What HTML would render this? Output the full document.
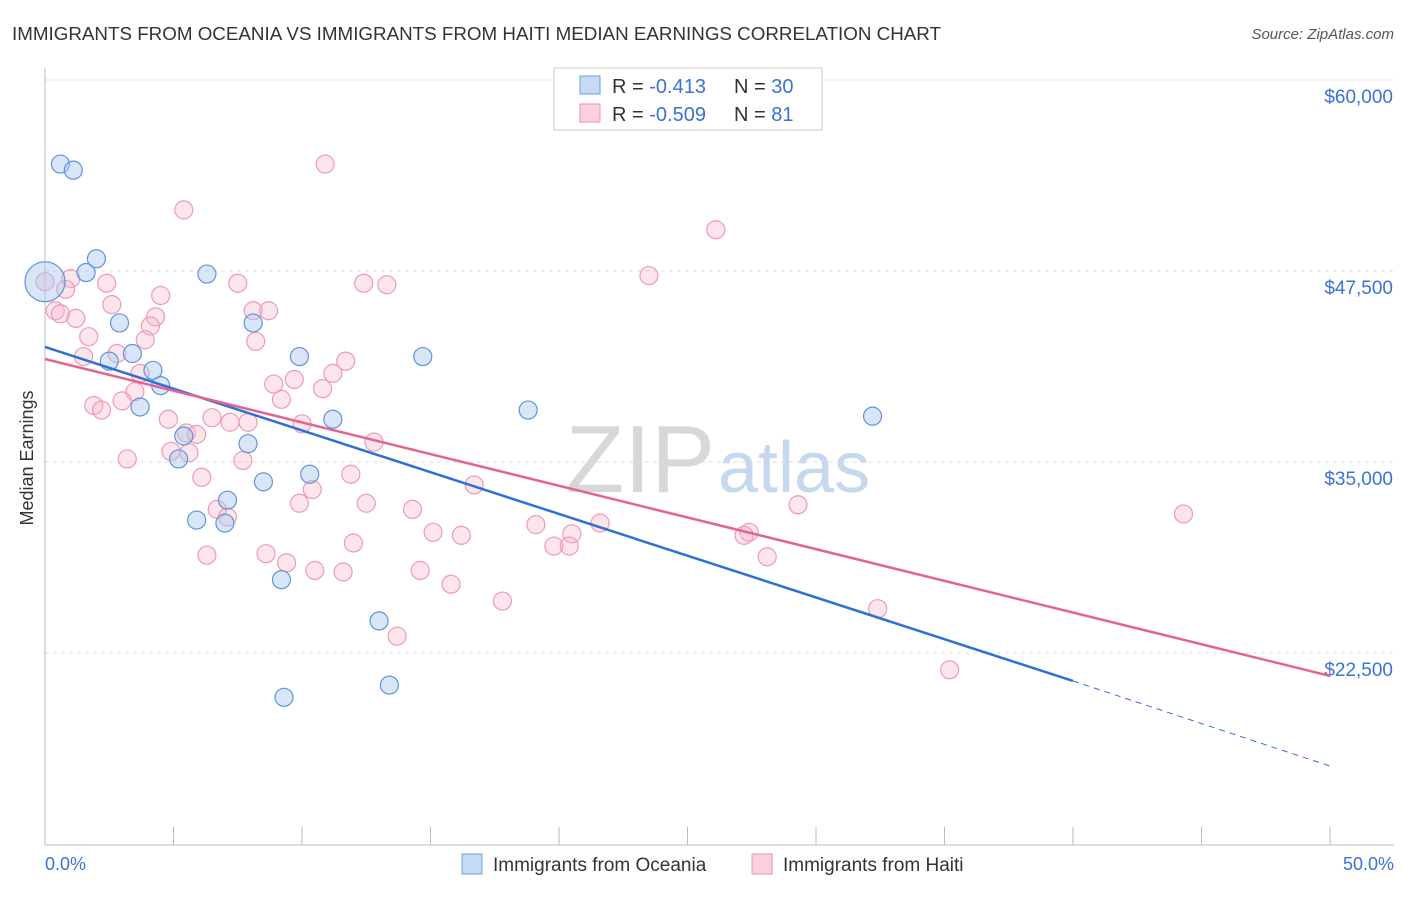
<!DOCTYPE html>
<html><head><meta charset="utf-8"><style>
body{margin:0;background:#fff;font-family:"Liberation Sans",sans-serif;}
svg text{font-family:"Liberation Sans",sans-serif;}
</style></head><body>
<svg id="chart" width="1406" height="892">
<text x="12" y="40" font-size="18" fill="#333" textLength="929" lengthAdjust="spacingAndGlyphs">IMMIGRANTS FROM OCEANIA VS IMMIGRANTS FROM HAITI MEDIAN EARNINGS CORRELATION CHART</text>
<text x="1394" y="39" font-size="15" fill="#555" font-style="italic" text-anchor="end">Source: ZipAtlas.com</text>
<text x="33" y="458" font-size="18" fill="#333" text-anchor="middle" transform="rotate(-90 33 458)">Median Earnings</text>
<text x="715" y="492" font-size="96" fill="#d8d8d8" text-anchor="end" font-family="Liberation Serif">ZIP</text>
<text x="718" y="492" font-size="72" fill="#c6d8ee">atlas</text>
<g id="grid"></g><g id="pts"></g><g id="lines"></g>
<g>
<rect x="554" y="68" width="268" height="62" fill="#fff" stroke="#ccc"/>
<rect x="580" y="76" width="20" height="18" fill="#c5dbf5" stroke="#6a9de0"/>
<rect x="580" y="104" width="20" height="18" fill="#fcd0dc" stroke="#ee90ad"/>
<text x="612" y="93" font-size="20" fill="#333">R = <tspan fill="#3a72d8">-0.413</tspan><tspan x="734">N = </tspan><tspan fill="#3a72d8">30</tspan></text>
<text x="612" y="121" font-size="20" fill="#333">R = <tspan fill="#3a72d8">-0.509</tspan><tspan x="734">N = </tspan><tspan fill="#3a72d8"> 81</tspan></text>
</g>
<g>
<rect x="462" y="854" width="20" height="20" fill="#c5dbf5" stroke="#6a9de0"/>
<text x="493" y="871" font-size="19" fill="#333">Immigrants from Oceania</text>
<rect x="752" y="854" width="20" height="20" fill="#fcd0dc" stroke="#ee90ad"/>
<text x="783" y="871" font-size="19" fill="#333">Immigrants from Haiti</text>
</g>
<text x="45" y="870" font-size="18" fill="#3a72d8">0.0%</text>
<text x="1394" y="870" font-size="18" fill="#3a72d8" text-anchor="end">50.0%</text>
</svg>
<script>
const yTicks=[60000,47500,35000,22500];
const yTickLabels=["$60,000","$47,500","$35,000","$22,500"];
const oceaniaX=[0.6,1.1,2.0,1.6,0,6.3,2.9,8.1,3.4,2.5,4.2,4.5,3.7,9.9,14.7,18.8,11.2,32.2,5.4,7.9,5.2,8.5,10.3,7.1,5.9,7.0,9.2,13.0,13.4,9.3];
const oceaniaY=[54500,54100,48300,47400,46800,47300,44100,44100,42100,41600,41000,40000,38600,41900,41900,38400,37800,38000,36700,36200,35200,33700,34200,32500,31200,31000,27300,24600,20400,19600];
const haitiX=[10.9,5.4,26.1,23.5,1.0,0,0.8,2.4,7.5,12.4,13.3,4.5,2.6,0.4,0.6,8.1,8.7,1.2,4.3,4.1,1.7,3.9,8.2,2.8,1.5,11.7,11.2,3.7,9.7,8.9,10.8,3.5,9.2,3.0,1.9,2.2,4.8,6.5,7.2,7.9,10.0,12.8,5.5,5.9,4.9,5.6,3.2,7.7,11.9,6.1,16.7,10.4,9.9,12.5,29.3,6.7,14.3,44.3,7.1,21.6,19.1,15.1,16.2,27.4,27.2,20.5,12.0,19.8,20.4,8.6,6.3,28.1,9.4,10.5,11.6,14.6,15.8,17.8,32.4,13.7,35.2];
const haitiY=[54500,51500,50200,47200,47000,46800,46300,46700,46700,46700,46600,45900,45300,44900,44700,44900,44900,44400,44500,43900,43200,43000,42900,42100,41900,41600,40800,40800,40400,40100,39800,39600,39100,39000,38700,38400,37800,37900,37600,37600,37500,36300,36900,36800,35700,35600,35200,35100,34200,34000,33500,33200,32300,32300,32200,31900,31900,31600,31400,31000,30900,30400,30200,30400,30200,30300,29700,29500,29500,29000,28900,28800,28400,27900,27800,27900,27000,25900,25400,23600,21400];
const trendX=[0,40,50];
const blueTrend=[42530,20670,15100];
const pinkTrend=[41740,21000];
const X=v=>45+v/50*1285, Y=v=>80+(60000-v)/12500*191;
const ns="http://www.w3.org/2000/svg";
function mk(tag,attrs,parent){const e=document.createElementNS(ns,tag);for(const k in attrs)e.setAttribute(k,attrs[k]);parent.appendChild(e);return e;}
const grid=document.getElementById('grid'),pts=document.getElementById('pts'),lines=document.getElementById('lines');
yTicks.forEach((t,i)=>{
 const l=mk('line',{x1:45,x2:1394,y1:Y(t),y2:Y(t),stroke:'#ddd','stroke-dasharray':'4,4'},grid);
 
 
 const tx=mk('text',{x:1393,y:Y(t)+23,'font-size':19,fill:'#3a72d8','text-anchor':'end'},grid);tx.textContent=yTickLabels[i];
 
 
});
mk('line',{x1:45,x2:45,y1:68,y2:845,stroke:'#bbb'},grid);
mk('line',{x1:45,x2:1394,y1:845,y2:845,stroke:'#bbb'},grid);
for(let i=0;i<=10;i++){const t=mk('line',{x1:X(i*5),x2:X(i*5),y1:827,y2:845,stroke:'#bbb'},grid);
 
 }
haitiX.forEach((x,i)=>{const c=mk('circle',{cx:X(x),cy:Y(haitiY[i]),r:9,fill:'rgba(248,180,200,0.35)',stroke:'#ef9ab4','stroke-width':1.2},pts);
 
 });
oceaniaX.forEach((x,i)=>{const c=mk('circle',{cx:X(x),cy:Y(oceaniaY[i]),r:i==4?20:9,fill:'rgba(170,200,240,0.45)',stroke:'#5f94dc','stroke-width':1.2},pts);
 
 });
const b1=mk('line',{x1:X(trendX[0]),y1:Y(blueTrend[0]),x2:X(trendX[1]),y2:Y(blueTrend[1]),stroke:'#2f6fd8','stroke-width':2.5},lines);


const b2=mk('line',{x1:X(trendX[1]),y1:Y(blueTrend[1]),x2:X(trendX[2]),y2:Y(blueTrend[2]),stroke:'#2f6fd8','stroke-width':1,'stroke-dasharray':'6,5'},lines);


const p1=mk('line',{x1:X(trendX[0]),y1:Y(pinkTrend[0]),x2:X(trendX[2]),y2:Y(pinkTrend[1]),stroke:'#e4638f','stroke-width':2.5},lines);


</script>
</body></html>
